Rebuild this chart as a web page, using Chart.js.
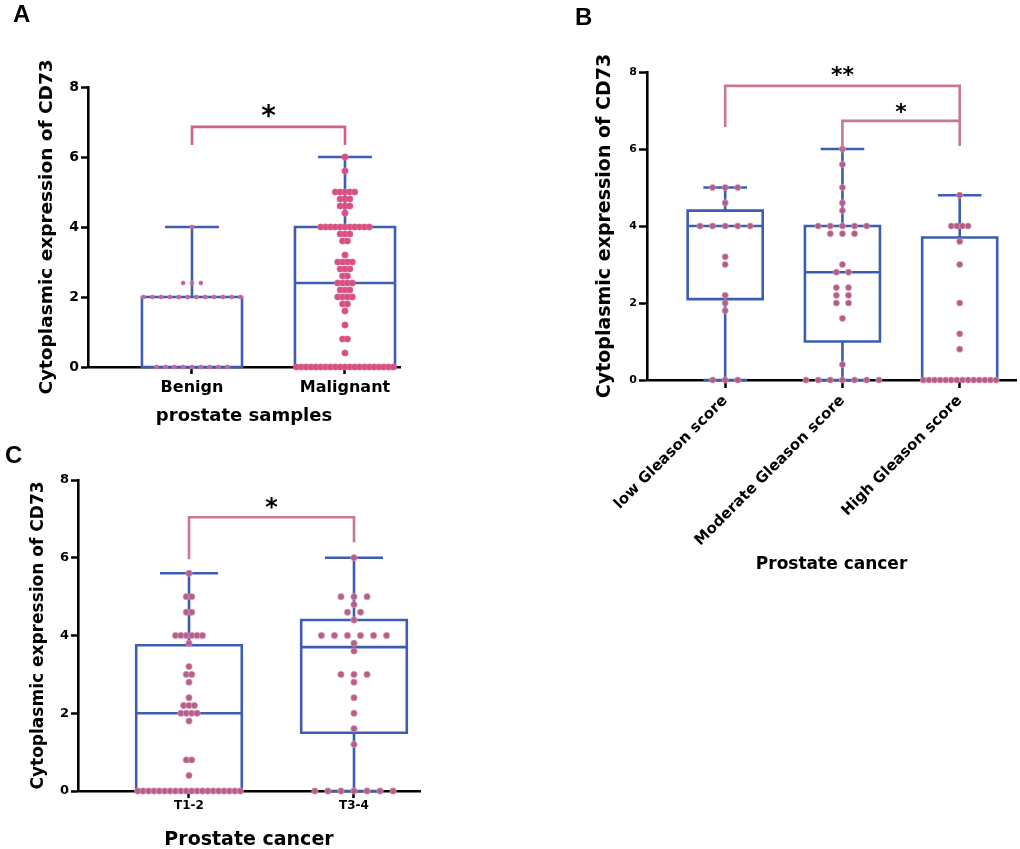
<!DOCTYPE html>
<html>
<head>
<meta charset="utf-8">
<script src="https://cdn.jsdelivr.net/npm/chart.js@4.4.1/dist/chart.umd.min.js"></script>
<style>
  body { margin: 0; background: #fff; width: 1020px; height: 849px; overflow: hidden; position: relative; }
  canvas { position: absolute; }
  .panel { position: absolute; font: bold 24px "Liberation Sans", Arial, sans-serif; line-height: 1; color: #000; z-index: 2; }
</style>
</head>
<body>
<canvas id="chartA" width="410" height="440" style="left:0;top:0"></canvas>
<canvas id="chartB" width="480" height="600" style="left:540px;top:0"></canvas>
<canvas id="chartC" width="430" height="410" style="left:0;top:450px"></canvas>
<div class="panel" style="left:13px;top:2px">A</div>
<div class="panel" style="left:575px;top:5px">B</div>
<div class="panel" style="left:5px;top:443px">C</div>
<script>
// ---- Panel A: prostate samples ----
const catsA = ['Benign', 'Malignant'];
const benignA = [0, 0, 0, 0, 0, 0, 0, 0, 0,
  2, 2, 2, 2, 2, 2, 2, 2, 2, 2, 2, 2,
  2.4, 2.4, 2.4, 4];
const malignantA = [0, 0, 0, 0, 0, 0, 0, 0, 0, 0, 0, 0, 0, 0, 0, 0, 0, 0, 0, 0, 0,
  0.4, 0.8, 0.8, 1.2, 1.6, 1.8, 1.8, 2, 2, 2, 2, 2.2, 2.2, 2.2, 2.4, 2.4, 2.4, 2.4,
  2.6, 2.6, 2.8, 2.8, 2.8, 3, 3, 3, 3, 3.2, 3.6, 3.6, 3.8, 3.8, 3.8,
  4, 4, 4, 4, 4, 4, 4, 4, 4, 4, 4,
  4.4, 4.6, 4.6, 4.6, 4.8, 4.8, 4.8, 5, 5, 5, 5, 5, 5.6, 6];
const minA = [0, 0], q1A = [0, 0], medA = [2, 2.4], q3A = [2, 4], maxA = [4, 6];
const bracketsA = [{ from: 1, to: 2, y: 6.86, left: 6.34, right: 6.34, text: '*', textY: 7.34 }];

// ---- Panel B: Gleason score ----
const catsB = ['low Gleason score', 'Moderate Gleason score', 'High Gleason score'];
const lowB = [0, 0, 0, 1.8, 2, 2.2, 3, 3.2, 4, 4, 4, 4, 4, 4.6, 5, 5, 5];
const moderateB = [0, 0, 0, 0, 0, 0, 0, 0.4, 1.6, 2, 2, 2.2, 2.2, 2.4, 2.4, 2.8, 2.8, 3,
  3.8, 3.8, 3.8, 4, 4, 4, 4, 4, 4.4, 4.6, 5, 5.6, 6];
const highB = [0, 0, 0, 0, 0, 0, 0, 0, 0, 0, 0, 0, 0, 0, 0.8, 1.2, 2, 3, 3.6, 4, 4, 4, 4, 4.8];
const minB = [0, 0, 0], q1B = [2.1, 1.0, 0], medB = [4.0, 2.8, 0], q3B = [4.4, 4.0, 3.7], maxB = [5, 6, 4.8];
const bracketsB = [
  { from: 1, to: 3, y: 7.64, left: 6.57, right: 6.08, text: '**', textY: 8.05 },
  { from: 2, to: 3, y: 6.73, left: 5.97, right: 6.73, text: '*', textY: 7.09 }
];

// ---- Panel C: T stage ----
const catsC = ['T1-2', 'T3-4'];
const t12C = [0, 0, 0, 0, 0, 0, 0, 0, 0, 0, 0, 0, 0, 0, 0, 0, 0, 0, 0, 0,
  0.4, 0.8, 0.8, 1.8, 2, 2, 2, 2, 2.2, 2.2, 2.2, 2.4, 2.8, 3, 3, 3.2, 3.8,
  4, 4, 4, 4, 4, 4, 4.6, 4.6, 5, 5, 5.6];
const t34C = [0, 0, 0, 0, 0, 0, 0, 1.2, 1.6, 2, 2.4, 2.8, 3, 3, 3, 3.6, 3.8,
  4, 4, 4, 4, 4, 4, 4.4, 4.6, 4.6, 4.8, 5, 5, 5, 6];
const minC = [0, 0], q1C = [0, 1.5], medC = [2, 3.7], q3C = [3.75, 4.4], maxC = [5.6, 6];
const bracketsC = [{ from: 1, to: 2, y: 7.04, left: 5.96, right: 6.4, text: '*', textY: 7.43 }];

const BLUE = '#3d5db3';
const FONT = '"DejaVu Sans", sans-serif';

// spread equal values side by side, like a column scatter
function swarm(values, center, step, maxWidth) {
  const counts = {};
  values.forEach(v => counts[v] = (counts[v] || 0) + 1);
  const maxRow = Math.max(...Object.values(counts));
  const s = maxRow > 1 ? Math.min(step, maxWidth / (maxRow - 1)) : step;
  const seen = {};
  return values.map(v => {
    const i = seen[v] = (seen[v] || 0) + 1;
    return { x: center + (i - 1 - (counts[v] - 1) / 2) * s, y: v };
  });
}

const boxPlot = {
  id: 'boxPlot',
  beforeDatasetsDraw(chart, args, o) {
    const { ctx, scales: { x, y } } = chart;
    const py = v => y.getPixelForValue(v);
    ctx.save();
    ctx.strokeStyle = o.color;
    ctx.lineWidth = o.lineWidth;
    o.min.forEach((mn, i) => {
      const cx = x.getPixelForValue(i + 1);
      const hw = x.getPixelForValue(i + 1 + o.half) - cx;
      const cw = x.getPixelForValue(i + 1 + o.cap) - cx;
      ctx.beginPath();
      ctx.moveTo(cx, py(o.max[i])); ctx.lineTo(cx, py(o.q3[i]));
      ctx.moveTo(cx, py(o.q1[i])); ctx.lineTo(cx, py(mn));
      ctx.moveTo(cx - cw, py(o.max[i])); ctx.lineTo(cx + cw, py(o.max[i]));
      ctx.moveTo(cx - cw, py(mn)); ctx.lineTo(cx + cw, py(mn));
      ctx.moveTo(cx - hw, py(o.med[i])); ctx.lineTo(cx + hw, py(o.med[i]));
      ctx.rect(cx - hw, py(o.q3[i]), 2 * hw, py(o.q1[i]) - py(o.q3[i]));
      ctx.stroke();
    });
    ctx.restore();
  }
};

const brackets = {
  id: 'brackets',
  afterDatasetsDraw(chart, args, o) {
    const { ctx, scales: { x, y } } = chart;
    const py = v => y.getPixelForValue(v);
    ctx.save();
    ctx.strokeStyle = o.color;
    ctx.lineWidth = o.lineWidth;
    o.items.forEach(b => {
      const x1 = x.getPixelForValue(b.from), x2 = x.getPixelForValue(b.to);
      ctx.beginPath();
      ctx.moveTo(x1, py(b.left));
      ctx.lineTo(x1, py(b.y));
      ctx.lineTo(x2, py(b.y));
      ctx.lineTo(x2, py(b.right));
      ctx.stroke();
      ctx.fillStyle = '#000';
      ctx.font = 'bold ' + o.starSize + 'px ' + FONT;
      ctx.textAlign = 'center';
      ctx.textBaseline = 'alphabetic';
      ctx.fillText(b.text, (x1 + x2) / 2, py(b.textY) + 0.54 * o.starSize);
    });
    ctx.restore();
  }
};

function makeChart(id, c) {
  return new Chart(document.getElementById(id), {
    type: 'scatter',
    data: {
      datasets: c.groups.map((vals, i) => ({
        data: swarm(vals, i + 1, c.step, 2 * c.half * 0.97),
        pointRadius: c.radius[i],
        pointHoverRadius: c.radius[i],
        backgroundColor: c.dot[i],
        borderColor: c.dotEdge,
        borderWidth: c.edgeWidth,
        clip: false
      }))
    },
    plugins: [boxPlot, brackets],
    options: {
      responsive: false,
      animation: false,
      layout: { padding: { top: c.top, right: c.right, left: 0, bottom: 0 } },
      plugins: {
        legend: { display: false },
        tooltip: { enabled: false },
        boxPlot: { color: BLUE, lineWidth: 2.6, half: c.half, cap: c.cap,
          min: c.box[0], q1: c.box[1], med: c.box[2], q3: c.box[3], max: c.box[4] },
        brackets: { color: c.bracketColor, lineWidth: 2.6, starSize: c.starSize, items: c.brackets }
      },
      scales: {
        x: {
          type: 'linear', min: c.xMin, max: c.xMax,
          afterBuildTicks: s => { s.ticks = c.cats.map((n, i) => ({ value: i + 1 })); },
          afterFit: s => { s.height = c.xHeight; },
          ticks: {
            callback: v => c.cats[v - 1], autoSkip: false,
            minRotation: c.rot, maxRotation: c.rot, padding: c.xPad,
            color: '#000', font: { family: FONT, weight: 'bold', size: c.xFont }
          },
          grid: { drawOnChartArea: false, tickLength: c.tick, tickWidth: 2.5, color: '#000', tickColor: '#000' },
          border: { display: true, color: '#000', width: 2.6 },
          title: { display: true, text: c.xTitle, color: '#000',
            font: { family: FONT, weight: 'bold', size: c.xTitleFont },
            padding: { top: 0, bottom: c.xTitlePad } }
        },
        y: {
          min: 0, max: 8,
          afterFit: s => { s.width = c.yWidth; },
          ticks: { stepSize: 2, padding: 2, color: '#000', font: { family: FONT, weight: 'bold', size: c.yFont } },
          grid: { drawOnChartArea: false, tickLength: c.tick, tickWidth: 2.5, color: '#000', tickColor: '#000' },
          border: { display: true, color: '#000', width: 2.6 },
          title: { display: true, text: 'Cytoplasmic expression of CD73', color: '#000',
            font: { family: FONT, weight: 'bold', size: c.yTitleFont },
            padding: { top: c.yTitlePad, bottom: 0 } }
        }
      }
    }
  });
}

makeChart('chartA', {
  cats: catsA, groups: [benignA, malignantA], box: [minA, q1A, medA, q3A, maxA], brackets: bracketsA,
  xMin: 0.3203, xMax: 2.3595, top: 87, right: 10, yWidth: 88, xHeight: 73,
  half: 0.327, cap: 0.176, step: 0.065, radius: [2.2, 3.3],
  dot: ['#c4639c', '#d84f80'], dotEdge: 'rgba(230,140,180,0.6)', edgeWidth: 0.6,
  bracketColor: '#d2608b', starSize: 28,
  rot: 0, xPad: 4, xFont: 16, tick: 7, yFont: 14,
  xTitle: 'prostate samples', xTitleFont: 18, xTitlePad: 13,
  yTitleFont: 18.5, yTitlePad: 36
});

makeChart('chartB', {
  cats: catsB, groups: [lowB, moderateB, highB], box: [minB, q1B, medB, q3B, maxB], brackets: bracketsB,
  xMin: 0.3333, xMax: 3.481, top: 72, right: 0, yWidth: 107, xHeight: 220,
  half: 0.32, cap: 0.186, step: 0.107, radius: [3.1, 3.1, 3.1],
  dot: ['#b25f86', '#b25f86', '#b25f86'], dotEdge: 'rgba(225,160,190,0.8)', edgeWidth: 0.8,
  bracketColor: '#c8779a', starSize: 22,
  rot: 45, xPad: 4, xFont: 15, tick: 8, yFont: 11,
  xTitle: 'Prostate cancer', xTitleFont: 17, xTitlePad: 25,
  yTitleFont: 19, yTitlePad: 54
});

makeChart('chartC', {
  cats: catsC, groups: [t12C, t34C], box: [minC, q1C, medC, q3C, maxC], brackets: bracketsC,
  xMin: 0.3273, xMax: 2.4, top: 30, right: 10, yWidth: 78, xHeight: 69,
  half: 0.32, cap: 0.176, step: 0.079, radius: [3.2, 3.2],
  dot: ['#b65f88', '#b65f88'], dotEdge: 'rgba(225,160,190,0.8)', edgeWidth: 0.8,
  bracketColor: '#c8779a', starSize: 24,
  rot: 0, xPad: 1, xFont: 12, tick: 7, yFont: 13,
  xTitle: 'Prostate cancer', xTitleFont: 19, xTitlePad: 8.6,
  yTitleFont: 17, yTitlePad: 28
});
</script>
</body>
</html>
